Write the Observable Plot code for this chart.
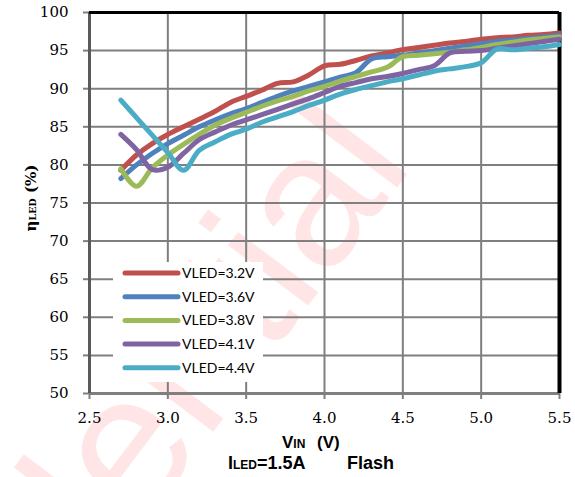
<!DOCTYPE html>
<html><head><meta charset="utf-8">
<script src="https://cdn.jsdelivr.net/npm/d3@7"></script>
<script src="https://cdn.jsdelivr.net/npm/@observablehq/plot@0.6"></script>
<style>html,body{margin:0;padding:0;background:#fff;} svg{display:block}
.serif-t{font-family:'DejaVu Serif','Liberation Serif',serif !important;}
</style>
</head><body><div id="chart"></div>
<script>
const vin = [2.7,2.8,2.9,3.0,3.1,3.2,3.3,3.4,3.5,3.6,3.7,3.8,3.9,4.0,4.1,4.2,4.3,4.4,4.5,4.6,4.7,4.8,4.9,5.0,5.1,5.2,5.3,5.4,5.5];
const eta32 = [79.3,81.3,82.8,84.0,85.0,86.0,87.0,88.2,89.0,89.8,90.7,90.9,91.8,93.0,93.2,93.7,94.3,94.7,95.1,95.4,95.7,96.0,96.2,96.5,96.7,96.8,97.0,97.1,97.3];
const eta36 = [78.2,80.0,81.5,82.8,83.9,85.0,85.9,86.7,87.4,88.2,89.0,89.7,90.3,90.9,91.5,92.1,93.9,94.2,94.4,94.7,95.0,95.3,95.6,95.9,96.2,96.4,96.6,96.8,97.0];
const eta38 = [79.5,77.2,79.6,81.3,82.7,84.0,85.2,86.1,86.9,87.7,88.4,89.0,89.7,90.3,91.0,91.6,92.2,92.8,94.2,94.4,94.6,94.8,95.1,95.4,95.8,96.1,96.4,96.6,96.8];
const eta41 = [84.0,82.0,79.4,79.7,81.5,83.3,84.3,85.2,85.9,86.6,87.3,88.0,88.7,89.5,90.3,90.8,91.3,91.6,92.0,92.5,93.0,94.7,94.9,95.0,95.3,95.6,95.9,96.2,96.5];
const eta44 = [88.5,86.2,83.9,81.6,79.3,81.9,83.0,84.0,84.7,85.6,86.3,87.0,87.8,88.5,89.3,89.9,90.4,90.9,91.3,91.8,92.3,92.6,92.9,93.4,95.2,95.1,95.3,95.5,95.8];
const seriesNames = ["VLED=3.2V","VLED=3.6V","VLED=3.8V","VLED=4.1V","VLED=4.4V"];
const seriesColors = ["#C0504D","#4F81BD","#9BBB59","#8064A2","#4BACC6"];
const xTicks = [2.5,3.0,3.5,4.0,4.5,5.0,5.5];
const yTicks = [50,55,60,65,70,75,80,85,90,95,100];

const allSeries = [eta32, eta36, eta38, eta41, eta44];
const rows = [];
allSeries.forEach((arr, i) => arr.forEach((v, j) => rows.push({vin: vin[j], eta: v, s: seriesNames[i]})));

const plot = Plot.plot({
  width: 575, height: 477,
  marginLeft: 89, marginRight: 16, marginTop: 12, marginBottom: 84,
  style: {background: "white", color: "black"},
  x: {domain: [2.5, 5.5]},
  y: {domain: [50, 100]},
  color: {domain: seriesNames, range: seriesColors},
  marks: [
    Plot.gridX(xTicks, {stroke: "#7f7f7f", strokeOpacity: 1, strokeWidth: 2}),
    Plot.gridY(yTicks, {stroke: "#7f7f7f", strokeOpacity: 1, strokeWidth: 2}),
    Plot.axisX(xTicks, {tickSize: 6, tickPadding: 13, tickFormat: d => d.toFixed(1), stroke: "#7f7f7f", strokeWidth: 2, label: null, fontSize: 15, fill: "black"}),
    Plot.axisY(yTicks, {tickSize: 6, tickPadding: 15, stroke: "#7f7f7f", strokeWidth: 2, label: null, fontSize: 15, fill: "black"}),
    Plot.ruleY([50], {stroke: "#7f7f7f", strokeWidth: 3}),
    Plot.ruleX([2.5], {stroke: "#5a5a5a", strokeWidth: 3}),
    Plot.ruleY([100], {stroke: "black", strokeWidth: 3}),
    Plot.ruleX([5.5], {stroke: "black", strokeWidth: 4}),
    Plot.line(rows, {x: "vin", y: "eta", stroke: "s", z: "s", strokeWidth: 5, curve: "catmull-rom"})
  ]
});
document.getElementById("chart").append(plot);

const svg = d3.select(plot);
svg.selectAll("g[aria-label$='tick label']").classed("serif-t", true);
svg.selectAll("g[aria-label$='tick label'] text").classed("serif-t", true).style("font-size", "15px");

// watermark behind everything
svg.insert("text", ":first-child")
  .attr("transform", "translate(415,164) rotate(-53)")
  .attr("text-anchor", "end")
  .style("font-family", "'Liberation Sans', Arial, sans-serif")
  .attr("font-size", 190)
  .attr("fill", "#ff0000")
  .attr("fill-opacity", 0.1)
  .text("Confidential");
svg.insert("rect", ":first-child").attr("width", 575).attr("height", 477).attr("fill", "white");

// legend
const lg = svg.append("g");
lg.append("rect").attr("x", 113).attr("y", 262).attr("width", 150).attr("height", 120).attr("fill", "white");
seriesNames.forEach((n, i) => {
  const y = 273 + i * 23.7;
  lg.append("line").attr("x1", 125).attr("x2", 178).attr("y1", y).attr("y2", y)
    .attr("stroke", seriesColors[i]).attr("stroke-width", 5).attr("stroke-linecap", "round");
  lg.append("text").attr("x", 182).attr("y", y).attr("dy", "0.36em").attr("text-anchor", "start")
    .style("font-family", "Lato, sans-serif").attr("font-size", 14).attr("fill", "black").text(n);
});

// y title
const yt = svg.append("text")
  .attr("transform", "translate(36,198) rotate(-90)")
  .attr("text-anchor", "middle").classed("serif-t", true)
  .attr("font-weight", "bold").attr("font-size", 15).attr("fill", "black");
yt.append("tspan").text("η");
yt.append("tspan").attr("font-size", 9.5).text("LED");
yt.append("tspan").text(" (%)");

// x title
const xt = svg.append("text").attr("x", 282).attr("y", 448).attr("text-anchor", "start")
  .style("font-family", "'Liberation Sans', Arial, sans-serif").attr("font-weight", "bold").attr("font-size", 17).attr("fill", "black");
xt.append("tspan").text("V");
xt.append("tspan").attr("font-size", 12).text("IN");
xt.append("tspan").attr("x", 317).text("(V)");

const ct = svg.append("text").attr("x", 228).attr("y", 469).attr("text-anchor", "start")
  .style("font-family", "'Liberation Sans', Arial, sans-serif").attr("font-weight", "bold").attr("font-size", 18).attr("fill", "black");
ct.append("tspan").text("I");
ct.append("tspan").attr("font-size", 12).text("LED");
ct.append("tspan").text("=1.5A");
ct.append("tspan").attr("x", 347).text("Flash");
</script>
</body></html>
